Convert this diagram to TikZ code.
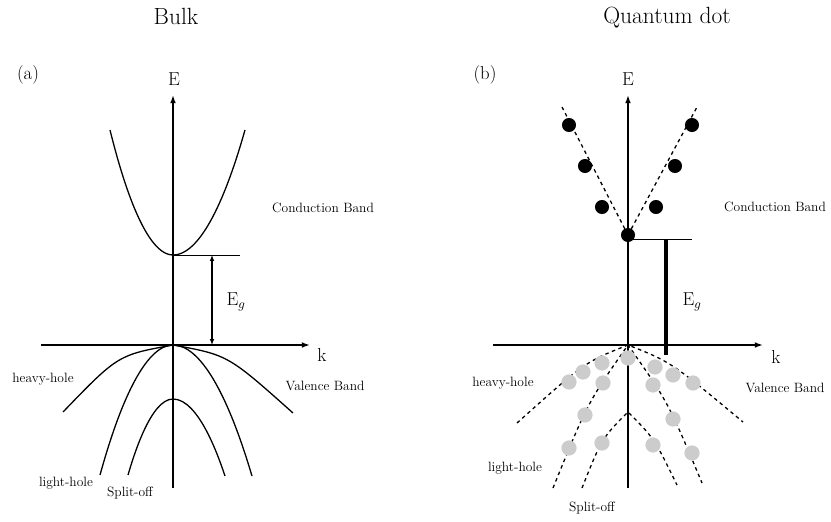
\documentclass[tikz,border=0pt]{standalone}
\usepackage{tikz}
\usetikzlibrary{arrows.meta,positioning,calc}

\begin{document}
\begin{tikzpicture}[x=0.03cm,y=-0.03cm,
    axis/.style={line width=1.5pt,-{Latex[length=7pt,width=5pt]}},
    band/.style={line width=1.1pt},
    dband/.style={line width=1.1pt,dash pattern=on 3pt off 3pt},
    lbl/.style={font=\fontsize{11.5}{13}\selectfont},
    big/.style={font=\fontsize{16}{18}\selectfont},
    title/.style={font=\fontsize{20}{24}\selectfont},
    electron/.style={circle,fill=black,inner sep=0pt,minimum size=12pt},
    hole/.style={circle,fill=gray!40,inner sep=0pt,minimum size=13pt}]
\useasboundingbox (0,0) rectangle (831,521);

% Titles and panel labels
\node[title] (bulk) at (176,16) {Bulk};
\node[title] (qdot) at (667,18) {Quantum dot};
\node[big] (pa) at (28,75) {(a)};
\node[big] (pb) at (485,75) {(b)};

% ---------- (a) Bulk ----------
\coordinate (a0) at (173,345);
\coordinate (abot) at (173,488);
\coordinate (atop) at (173,95);
\coordinate (aleft) at (41,345);
\coordinate (aright) at (310,345);
\node[big] (Ea) at (174,79) {E};
\node[big] (ka) at (322,355) {k};
\draw[axis] (abot) -- (atop);
\draw[axis] (aleft) -- (aright);

% conduction band
\coordinate (ac) at (173,255);
\draw[band] (110,130) parabola bend (ac) (245,130);
\draw[thin] (ac) -- (240,255);
\coordinate (ga) at (212,255);
\coordinate (gb) at (212,345);
\draw[line width=1.1pt,{Latex[length=5pt,width=4pt]}-{Latex[length=5pt,width=4pt]}] (ga) -- (gb);
\node[big] (Ega) at (236,302) {E$_g$};

% valence bands: heavy-hole, light-hole, split-off
\draw[band] (63,412) .. controls (118,355) .. (a0) .. controls (228,355) .. (293,413);
\draw[band] (100,475) parabola bend (a0) (252,476);
\draw[band] (128,475) parabola bend (173,399) (225,476);

\node[lbl] (cba) at (323,208) {Conduction Band};
\node[lbl] (vba) at (325,386) {Valence Band};
\node[lbl] (hha) at (43,379) {heavy-hole};
\node[lbl] (lha) at (66,483) {light-hole};
\node[lbl] (soa) at (130,493) {Split-off};

% ---------- (b) Quantum dot ----------
\coordinate (b0) at (628,345);
\coordinate (bbot) at (628,488);
\coordinate (btop) at (628,95);
\coordinate (bleft) at (493,345);
\coordinate (bright) at (763,345);
\node[big] (Eb) at (628,79) {E};
\node[big] (kb) at (776,357) {k};
\draw[axis] (bbot) -- (btop);
\draw[axis] (bleft) -- (bright);

% conduction levels
\coordinate (bc) at (628,235);
\draw[dband] (bc) -- (562,107);
\draw[dband] (bc) -- (697,107);
\draw[thin] (628,239) -- (692,239);
\coordinate (gc) at (666,239);
\coordinate (gd) at (666,355);
\draw[line width=3.4pt] (gc) -- (gd);
\node[big] (Egb) at (692,302) {E$_g$};

% valence levels
\draw[dband] (517,423) .. controls (585,362) .. (b0) .. controls (671,362) .. (743,422);
\draw[dband] (553,488) .. controls (588,402) .. (b0) .. controls (668,402) .. (702,483);
\draw[dband] (582,488) .. controls (602,438) .. (628,412) .. controls (654,438) .. (677,485);

% electrons
\foreach \x/\y [count=\i] in {628/235,602/207,585/166,569/125,656/207,675/166,692/125}
    \node[electron] (e\i) at (\x,\y) {};
% holes
\foreach \x/\y [count=\i] in {628/358,602/363,583/372,569/382,603/383,585/415,569/448,602/443,
    655/367,673/375,693/383,653/385,673/419,692/453,653/445}
    \node[hole] (h\i) at (\x,\y) {};

\node[lbl] (cbb) at (775,207) {Conduction Band};
\node[lbl] (vbb) at (785,388) {Valence Band};
\node[lbl] (hhb) at (503,383) {heavy-hole};
\node[lbl] (lhb) at (515,468) {light-hole};
\node[lbl] (sob) at (592,508) {Split-off};

\end{tikzpicture}
\end{document}
